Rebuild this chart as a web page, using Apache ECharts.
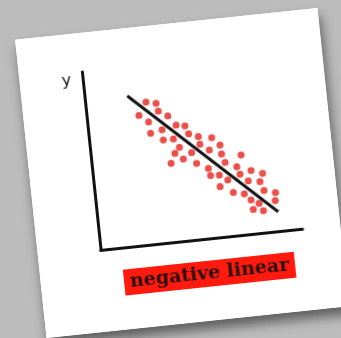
<html>
<head>
    <meta charset="UTF-8">
    <title>negative linear</title>
    <script src="https://cdn.jsdelivr.net/npm/echarts@6/dist/echarts.min.js"></script>
    <style>
        body { margin: 0; background: #bcbcbc; width: 341px; height: 338px; overflow: hidden; }
        #card {
            position: absolute; left: 30px; top: 23px; width: 304px; height: 300px;
            background: #fff; transform: rotate(-6deg);
            box-shadow: 2px 8px 12px rgba(0, 0, 0, 0.5);
        }
    </style>
</head>

<body>
    <div id="card"></div>
</body>

<script>
    // scatter points (axes run 0..10)
    var ptsX = [2.98, 3.47, 3.54, 2.57, 3.98, 3.01, 4.34, 4.77, 3.63, 3.05, 4.91, 5.37, 6.02, 3.64, 4.14, 5.41,
        6.39, 4.39, 5.84, 4.14, 4.96, 6.42, 7.37, 4.52, 6.55, 3.90, 5.15, 7.10, 5.70, 7.78, 8.33, 5.77,
        6.20, 7.22, 6.59, 7.59, 8.16, 6.18, 6.80, 7.33, 8.31, 8.86, 7.63, 8.00, 8.81, 7.69, 8.18];
    var ptsY = [7.94, 7.82, 7.38, 7.25, 7.05, 6.83, 6.50, 6.39, 6.31, 6.19, 5.93, 5.72, 5.59, 5.74, 5.74, 5.29,
        5.13, 5.24, 4.92, 4.93, 4.87, 4.62, 4.45, 4.57, 4.14, 4.40, 4.25, 3.83, 3.90, 3.53, 3.31, 3.49,
        3.47, 3.39, 3.14, 2.97, 2.86, 2.82, 2.41, 2.27, 2.34, 2.16, 1.90, 1.66, 1.72, 1.36, 1.23];
    // trend line end points
    var lineX = [2.1, 8.9];
    var lineY = [8.4, 1.08];

    var points = [];
    for (var i = 0; i < ptsX.length; i++) {
        points.push([ptsX[i], ptsY[i]]);
    }
    var trend = [];
    for (var j = 0; j < lineX.length; j++) {
        trend.push([lineX[j], lineY[j]]);
    }

    var mycharts = echarts.init(document.getElementById('card'));
    var bareAxis = {
        type: 'value', min: 0, max: 10,
        axisLine: { show: true, lineStyle: { color: '#111', width: 3 } },
        axisTick: { show: false },
        axisLabel: { show: false },
        splitLine: { show: false }
    };
    var option = {
        animation: false,
        backgroundColor: '#fff',
        title: {
            text: 'negative linear',
            left: 83, top: 240,
            backgroundColor: '#ff1a0d',
            padding: [4, 6, 3, 6],
            textStyle: { fontFamily: 'DejaVu Serif', fontWeight: 'bold', fontSize: 19, color: '#2b1010' }
        },
        grid: { left: 63, top: 39, right: 38, bottom: 82 },
        xAxis: bareAxis,
        yAxis: bareAxis,
        graphic: [{
            type: 'text', left: 42, top: 39,
            style: { text: 'y', font: '16px DejaVu Sans', fill: '#111' }
        }],
        series: [{
            type: 'scatter',
            symbolSize: 7,
            itemStyle: { color: '#e5231c' },
            data: points
        }, {
            type: 'line',
            showSymbol: false,
            lineStyle: { color: '#111', width: 3 },
            data: trend
        }]
    };
    mycharts.setOption(option);
</script>
</html>
